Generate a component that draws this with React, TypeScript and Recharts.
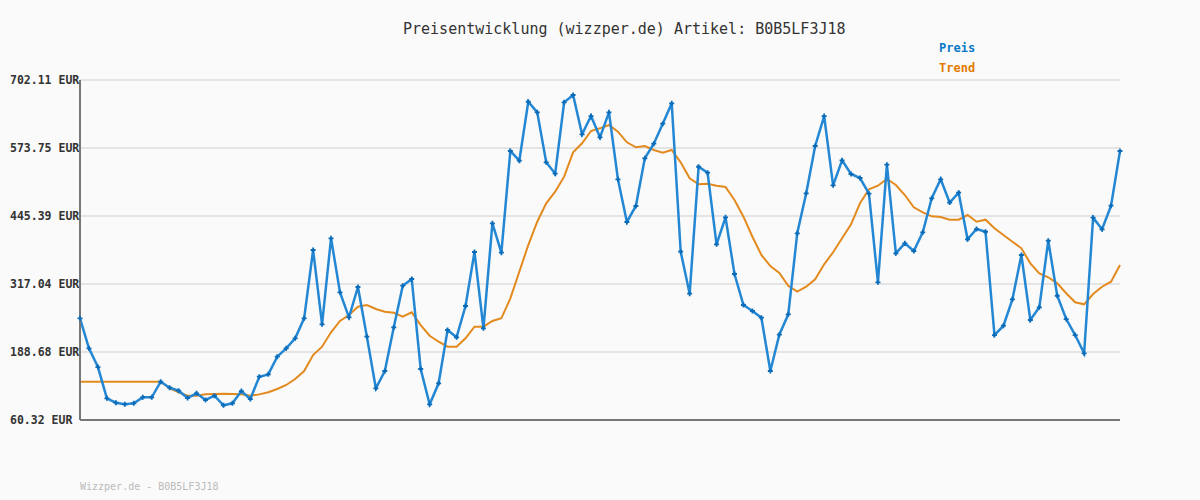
import React from "react";
import { LineChart, Line, XAxis, YAxis, CartesianGrid } from "recharts";

// price per sample (EUR)
const price = [
  252.3, 195.6, 160.3, 101.2, 93.0, 89.9, 91.8, 103.1, 103.1, 132.6,
  121.3, 115.6, 101.8, 110.7, 98.1, 106.2, 88.0, 91.8, 115.0, 99.9,
  142.1, 146.5, 179.8, 195.6, 214.5, 252.3, 381.2, 240.9, 403.3, 301.3,
  254.1, 311.4, 217.6, 120.1, 152.8, 235.3, 313.9, 326.5, 156.6, 89.9,
  129.6, 230.2, 216.4, 275.5, 377.4, 233.4, 431.6, 376.1, 568.1, 549.8,
  661.1, 641.1, 546.7, 525.2, 660.0, 673.8, 599.6, 634.1, 593.9, 641.1,
  514.7, 434.1, 464.3, 554.3, 581.9, 619.6, 658.1, 378.0, 298.7, 538.4,
  527.1, 392.0, 442.9, 335.9, 277.4, 266.1, 253.4, 152.8, 221.4, 259.8,
  412.7, 488.2, 577.5, 634.1, 503.3, 550.5, 524.7, 517.1, 487.5, 320.2,
  542.2, 375.0, 393.8, 379.3, 414.6, 478.8, 514.7, 470.8, 489.4, 401.4,
  420.8, 415.7, 220.7, 238.3, 288.1, 371.8, 249.1, 273.0, 398.8, 294.9,
  250.9, 220.7, 186.2, 442.2, 420.3, 464.8, 568.1,
];

// moving-average trend
const trend = [
  132.6, 132.6, 132.6, 132.6, 132.6, 132.6, 132.6, 132.6, 132.6, 132.6,
  120.1, 112.6, 106.2, 106.2, 108.7, 109.4, 110.0, 109.4, 108.7, 106.2,
  108.7, 112.6, 118.8, 126.4, 137.7, 152.8, 183.0, 198.7, 225.8, 247.2,
  258.5, 274.2, 277.4, 269.8, 264.7, 262.8, 255.3, 263.6, 239.6, 219.4,
  208.1, 198.7, 198.7, 214.5, 236.4, 236.4, 247.2, 252.3, 290.0, 340.2,
  390.6, 434.6, 469.4, 491.2, 519.6, 565.6, 582.6, 605.8, 610.9, 617.2,
  604.5, 584.5, 575.1, 577.5, 570.0, 564.9, 570.0, 546.7, 516.5, 505.2,
  506.4, 502.6, 500.1, 475.6, 444.1, 406.3, 371.8, 351.0, 338.0, 313.8,
  302.5, 311.9, 325.9, 354.2, 376.9, 403.3, 429.7, 469.4, 495.8, 502.6,
  515.2, 503.9, 485.0, 461.8, 452.4, 444.8, 443.5, 438.4, 438.4, 447.3,
  434.6, 438.4, 422.1, 409.5, 396.9, 384.4, 356.1, 337.2, 329.7, 318.3,
  299.5, 282.5, 278.7, 298.1, 311.9, 321.4, 352.9,
];

const yTicks = [60.32, 188.68, 317.04, 445.39, 573.75, 702.11];

const title = "Preisentwicklung (wizzper.de) Artikel: B0B5LF3J18";
const footer = "Wizzper.de - B0B5LF3J18";

const data = price.map((p, i) => ({ i, price: p, trend: trend[i] }));

const mono = "'DejaVu Sans Mono', monospace";

function YTick(props: any) {
  const { y, payload } = props;
  return (
    <text x={10} y={y} dy={4} fontFamily={mono} fontSize={11.5} fontWeight="bold" fill="#333">
      {payload.value.toFixed(2)} EUR
    </text>
  );
}

function PlusDot(props: any) {
  const { cx, cy, index } = props;
  if (cx == null || cy == null) return null;
  return (
    <path
      key={index}
      d={`M${cx - 2.5},${cy}H${cx + 2.5}M${cx},${cy - 2.5}V${cy + 2.5}`}
      stroke="#0a6cb8"
      strokeWidth={1.8}
    />
  );
}

export default function App() {
  return (
    <div
      style={{
        position: "absolute",
        left: 0,
        top: 0,
        width: 1200,
        height: 500,
        background: "#fafafa",
        fontFamily: mono,
      }}
    >
      <div style={{ position: "absolute", left: 403, top: 20, fontSize: 15, color: "#333", whiteSpace: "nowrap" }}>
        {title}
      </div>
      <div style={{ position: "absolute", left: 939, top: 41, fontSize: 12, fontWeight: "bold", color: "#0a78c6" }}>
        Preis
      </div>
      <div style={{ position: "absolute", left: 939, top: 61, fontSize: 12, fontWeight: "bold", color: "#e07b00" }}>
        Trend
      </div>
      <div style={{ position: "absolute", left: 80, top: 481, fontSize: 10, color: "#bbb" }}>{footer}</div>

      <LineChart width={1200} height={500} data={data} margin={{ top: 80, right: 80, bottom: 50, left: 0 }}>
        <CartesianGrid horizontal vertical={false} stroke="#e4e4e4" strokeWidth={2} />
        <XAxis
          type="number"
          dataKey="i"
          domain={[0, 116]}
          tick={false}
          tickLine={false}
          height={30}
          axisLine={{ stroke: "#777", strokeWidth: 2 }}
        />
        <YAxis
          type="number"
          domain={[60.32, 702.11]}
          ticks={yTicks}
          width={80}
          tick={<YTick />}
          tickLine={false}
          axisLine={{ stroke: "#777", strokeWidth: 2 }}
        />
        <Line
          type="linear"
          dataKey="trend"
          stroke="#e38a1f"
          strokeWidth={2}
          dot={false}
          isAnimationActive={false}
        />
        <Line
          type="linear"
          dataKey="price"
          stroke="#2487d4"
          strokeWidth={2.5}
          dot={<PlusDot />}
          isAnimationActive={false}
        />
      </LineChart>
    </div>
  );
}
